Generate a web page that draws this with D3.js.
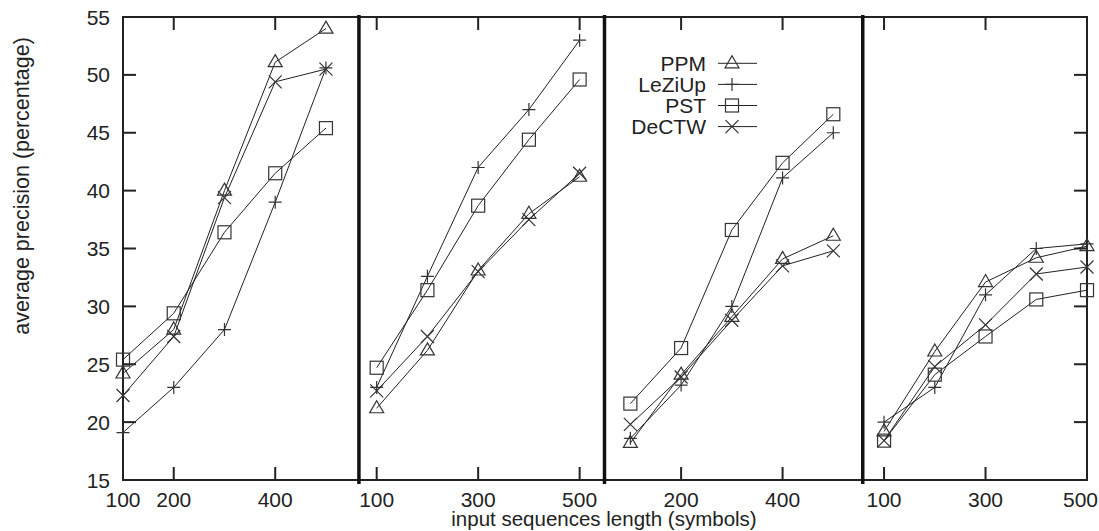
<!DOCTYPE html>
<html>
<head>
<meta charset="utf-8">
<script src="https://cdn.jsdelivr.net/npm/d3@7"></script>
<style>
  body { margin: 0; background: #fff; }
  svg text { font-family: "Liberation Sans", Arial, sans-serif; fill: #222; }
</style>
</head>
<body>
<svg id="chart" width="1099" height="531"></svg>
<script>
// x values inside each panel (every panel runs 100..500)
var lengths = [100, 200, 300, 400, 500];

// one row per panel, left to right
var ppm = [
	[24.2, 28.0, 40.0, 51.1, 54.0],
	[21.2, 26.2, 33.1, 38.0, 41.2],
	[18.2, 24.1, 29.1, 34.1, 36.1],
	[19.2, 26.1, 32.1, 34.2, 35.2]
];
var leziup = [
	[19.1, 23.0, 28.0, 39.0, 50.6],
	[23.0, 32.6, 42.0, 47.0, 53.0],
	[18.6, 23.2, 30.0, 41.1, 45.0],
	[20.0, 23.0, 31.0, 35.0, 35.4]
];
var pst = [
	[25.4, 29.4, 36.4, 41.5, 45.4],
	[24.7, 31.4, 38.7, 44.4, 49.6],
	[21.6, 26.4, 36.6, 42.4, 46.6],
	[18.4, 24.1, 27.4, 30.6, 31.4]
];
var dectw = [
	[22.3, 27.4, 39.4, 49.4, 50.5],
	[22.7, 27.4, 33.0, 37.5, 41.5],
	[19.8, 23.9, 28.8, 33.5, 34.8],
	[18.4, 24.8, 28.4, 32.8, 33.4]
];

var seriesNames = ["PPM", "LeZiUp", "PST", "DeCTW"];
var seriesData = [ppm, leziup, pst, dectw];
var seriesMarks = ["triangle", "plus", "square", "cross"];

var yTicks = [15, 20, 25, 30, 35, 40, 45, 50, 55];
// ticks in the joined x coordinate, with the label each one shows
var xTicks = [100, 200, 400, 600, 800, 1000, 1200, 1400, 1600, 1800, 2000];
var xTickLabels = ["100", "200", "400", "100", "300", "500", "200", "400", "100", "300", "500"];
// panel separators in the joined x coordinate
var separators = [565, 1049, 1558];

var panelShift = 500;

// plot box
var box = { left: 123, right: 1087, top: 17, bottom: 480 };
var ink = "#222";

var svg = d3.select("#chart");

var x = d3.scaleLinear().domain([100, 2000]).range([box.left, box.right]);
var y = d3.scaleLinear().domain([15, 55]).range([box.bottom, box.top]);

// ticks (inward, mirrored)
var tickLen = 13;
var g = svg.append("g").attr("stroke", ink).attr("stroke-width", 2);
yTicks.forEach(function(v) {
	g.append("line").attr("x1", box.left).attr("x2", box.left + tickLen).attr("y1", y(v)).attr("y2", y(v));
	g.append("line").attr("x1", box.right).attr("x2", box.right - tickLen).attr("y1", y(v)).attr("y2", y(v));
});
xTicks.forEach(function(v) {
	g.append("line").attr("x1", x(v)).attr("x2", x(v)).attr("y1", box.bottom).attr("y2", box.bottom - tickLen);
	g.append("line").attr("x1", x(v)).attr("x2", x(v)).attr("y1", box.top).attr("y2", box.top + tickLen);
});

// frame
svg.append("rect")
	.attr("x", box.left).attr("y", box.top)
	.attr("width", box.right - box.left).attr("height", box.bottom - box.top)
	.attr("fill", "none").attr("stroke", ink).attr("stroke-width", 2);

// panel separators
separators.forEach(function(v) {
	svg.append("line")
		.attr("x1", x(v)).attr("x2", x(v))
		.attr("y1", box.top - 2).attr("y2", box.bottom + 4)
		.attr("stroke", "#111").attr("stroke-width", 3.5);
});

// tick labels
svg.selectAll(".ylab").data(yTicks).enter().append("text")
	.attr("x", 110).attr("y", function(d) { return y(d) + 7.5; })
	.attr("text-anchor", "end").attr("font-size", 21)
	.text(function(d) { return d; });

// last label would run off the page, so it is pinned to the right edge
svg.selectAll(".xlab").data(xTicks).enter().append("text")
	.attr("x", function(d, i) { return i === xTicks.length - 1 ? 1098 : x(d); })
	.attr("y", 507)
	.attr("text-anchor", function(d, i) { return i === xTicks.length - 1 ? "end" : "middle"; })
	.attr("font-size", 21)
	.text(function(d, i) { return xTickLabels[i]; });

// axis titles
svg.append("text")
	.attr("x", 604).attr("y", 526)
	.attr("text-anchor", "middle").attr("font-size", 20.5)
	.text("input sequences length (symbols)");

svg.append("text")
	.attr("transform", "translate(29,186) rotate(-90)")
	.attr("text-anchor", "middle").attr("font-size", 21.5)
	.text("average precision (percentage)");

// marker shapes
function drawMark(sel, type, cx, cy) {
	var s = 6.5;
	var m = sel.append("g").attr("fill", "none").attr("stroke", "#333").attr("stroke-width", 1.2);
	if (type === "triangle") {
		m.append("path").attr("d", "M" + cx + "," + (cy - 7.5) + "L" + (cx + 7) + "," + (cy + 4.5) + "L" + (cx - 7) + "," + (cy + 4.5) + "Z");
	} else if (type === "square") {
		m.append("rect").attr("x", cx - s).attr("y", cy - s).attr("width", 2 * s).attr("height", 2 * s);
	} else if (type === "plus") {
		m.append("path").attr("d", "M" + (cx - s) + "," + cy + "H" + (cx + s) + "M" + cx + "," + (cy - s) + "V" + (cy + s));
	} else {
		m.append("path").attr("d", "M" + (cx - s) + "," + (cy - s) + "L" + (cx + s) + "," + (cy + s) +
			"M" + (cx - s) + "," + (cy + s) + "L" + (cx + s) + "," + (cy - s));
	}
}

var line = d3.line()
	.x(function(d) { return x(d[0]); })
	.y(function(d) { return y(d[1]); });

seriesData.forEach(function(rows, si) {
	rows.forEach(function(vals, p) {
		var pts = vals.map(function(v, i) { return [lengths[i] + p * panelShift, v]; });
		svg.append("path").datum(pts)
			.attr("d", line)
			.attr("fill", "none").attr("stroke", ink).attr("stroke-width", 1);
		pts.forEach(function(pt) { drawMark(svg, seriesMarks[si], x(pt[0]), y(pt[1])); });
	});
});

// legend
var legendY = [63.3, 84.4, 105.5, 126.6];
seriesNames.forEach(function(name, i) {
	svg.append("text")
		.attr("x", 706).attr("y", legendY[i] + 7.5)
		.attr("text-anchor", "end").attr("font-size", 21)
		.text(name);
	svg.append("line")
		.attr("x1", 718).attr("x2", 757).attr("y1", legendY[i]).attr("y2", legendY[i])
		.attr("stroke", ink).attr("stroke-width", 1);
	drawMark(svg, seriesMarks[i], 732, legendY[i]);
});
</script>
</body>
</html>
